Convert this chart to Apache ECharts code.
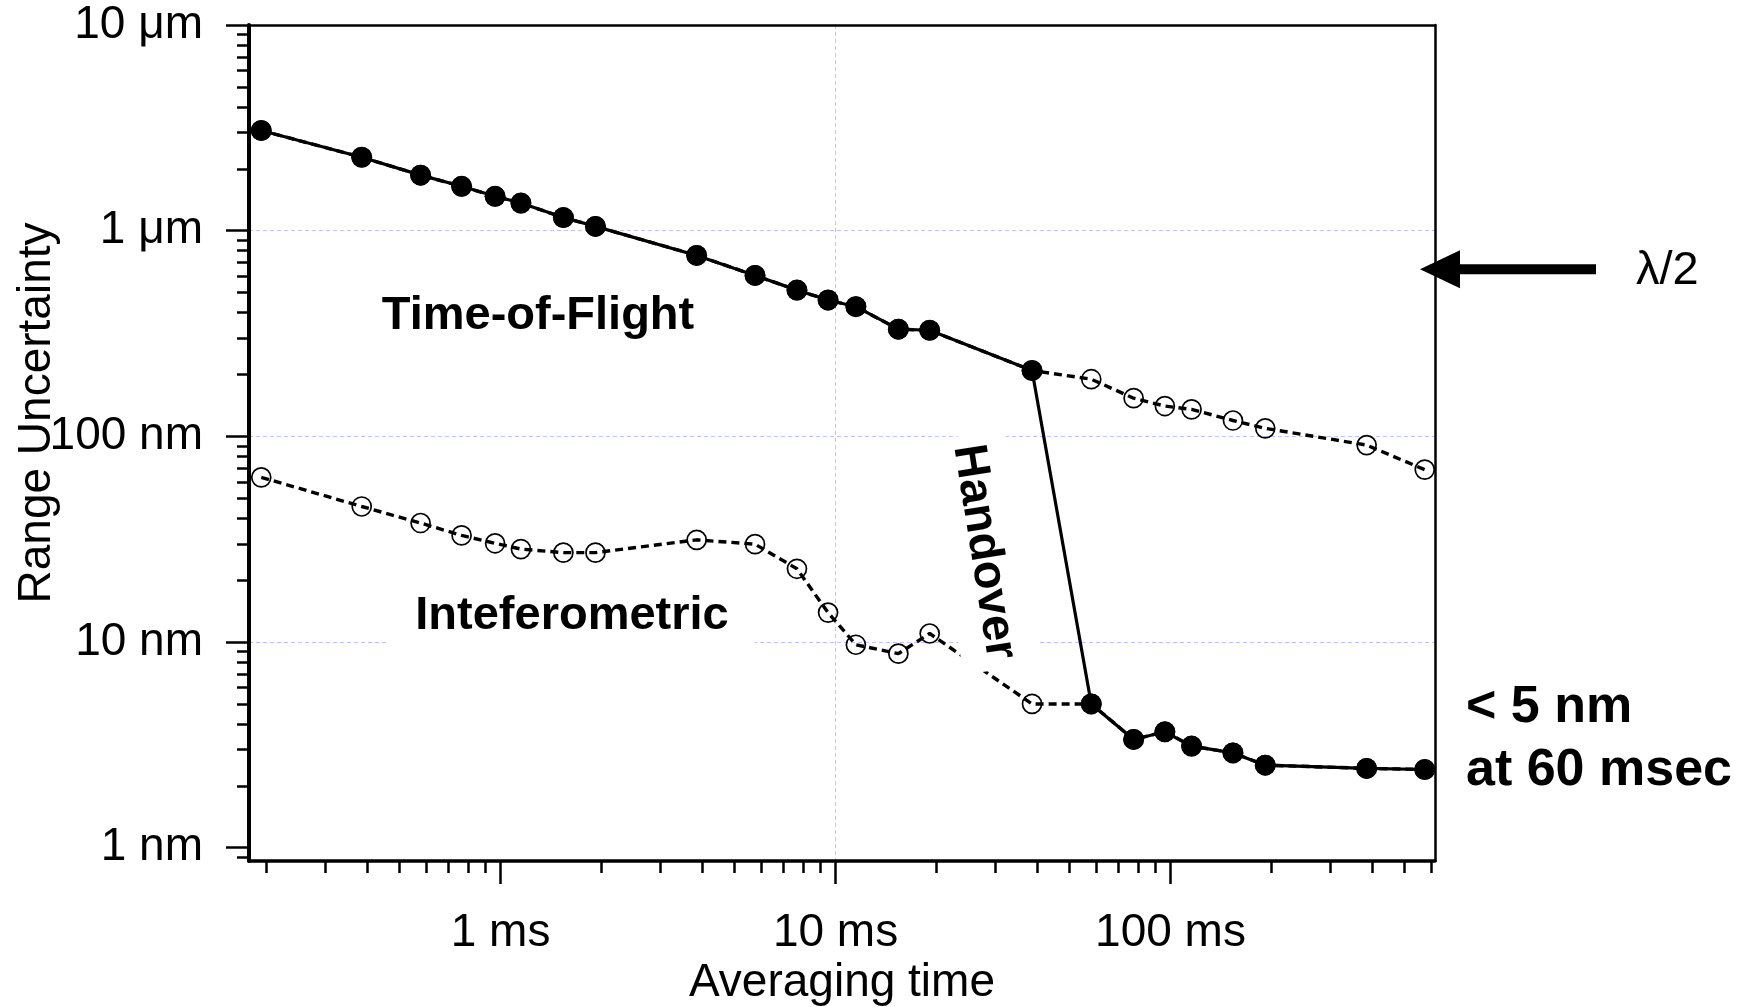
<!DOCTYPE html>
<html>
<head>
<meta charset="utf-8">
<title>Range uncertainty vs averaging time</title>
<script src="https://cdn.jsdelivr.net/npm/echarts@6/dist/echarts.min.js"></script>
<style>
  html, body { margin: 0; padding: 0; background: #fff; }
  #chart { width: 1748px; height: 1007px; }
</style>
</head>
<body>
<div id="chart"></div>
<script>
// averaging time, ms
var times = [0.193, 0.385, 0.577, 0.765, 0.963, 1.15, 1.54, 1.92, 3.85, 5.75, 7.67, 9.5,
  11.5, 15.4, 19.1, 38.6, 58, 77.6, 96.2, 115.6, 153.6, 191.8, 385, 574];
// range uncertainty, nm
var timeOfFlight = [3069, 2275, 1862, 1643, 1469, 1362, 1158, 1049, 758, 606, 514, 460,
  427, 332, 328, 209, 189.6, 153.3, 140.4, 135.3, 119.4, 109.4, 90.7, 68.9];
var interferometric = [63.2, 45.6, 37.9, 33.0, 30.2, 28.3, 27.2, 27.2, 31.4, 29.9, 22.7, 13.9,
  9.7, 8.78, 11.0, 5.0, 5.0, 3.36, 3.66, 3.12, 2.89, 2.52, 2.43, 2.40];
// first point where the interferometric value takes over
var handoverIndex = 16;
var lambdaHalf = 650; // nm

var xRange = [0.1774, 616];
var yRange = [0.8616, 10000];
var xMajorTicks = [1, 10, 100];
var yMajorTicks = [1, 10, 100, 1000, 10000];

function minorTicks(range) {
  var out = [];
  for (var d = 0.1; d <= 1000; d *= 10) {
    for (var k = 2; k <= 9; k++) {
      var v = +(k * d).toPrecision(3);
      if (v > range[0] && v < range[1]) out.push(v);
    }
  }
  return out;
}

var FONT = '"Liberation Sans", Arial, sans-serif';
var black = '#000';
var gridBlue = '#b4c8ff';

var pairs = function (ys) { return times.map(function (t, i) { return [t, ys[i]]; }); };
var combined = times.map(function (t, i) {
  return [t, i < handoverIndex ? timeOfFlight[i] : interferometric[i]];
});

function frameAxis(pos, range, width) {
  return {
    type: 'log', position: pos, min: range[0], max: range[1],
    axisLine: { show: true, onZero: false, lineStyle: { color: black, width: width } },
    axisTick: { show: false }, axisLabel: { show: false }, splitLine: { show: false }
  };
}
function minorAxis(pos, range) {
  return {
    type: 'log', position: pos, min: range[0], max: range[1],
    axisLine: { show: false, onZero: false },
    axisTick: { show: true, customValues: minorTicks(range), length: 12, lineStyle: { color: black, width: 2.5 } },
    axisLabel: { show: false }, splitLine: { show: false }
  };
}

var openSeries = function (ys) {
  return {
    type: 'line', data: pairs(ys), xAxisIndex: 0, yAxisIndex: 0, z: 2,
    symbol: 'circle', symbolSize: 19, silent: true,
    lineStyle: { color: black, width: 3.4, type: [8, 5] },
    itemStyle: { color: 'rgba(0,0,0,0)', borderColor: black, borderWidth: 1.7 }
  };
};

function textBox(text, x, y, rot, pad) {
  return {
    type: 'text', x: x, y: y, rotation: rot || 0, z: 10, silent: true,
    style: {
      text: text, font: 'bold 47px ' + FONT, fill: black, align: 'center', verticalAlign: 'middle',
      backgroundColor: '#fff', padding: pad
    }
  };
}

var chart = echarts.init(document.getElementById('chart'));
var option = {
  animation: false,
  backgroundColor: '#fff',
  grid: { left: 249, right: 313, top: 25, bottom: 146, outerBoundsMode: 'none' },
  xAxis: [{
    type: 'log', position: 'bottom', min: xRange[0], max: xRange[1],
    name: 'Averaging time', nameLocation: 'middle', nameGap: 99, nameMoveOverlap: false,
    nameTextStyle: { color: black, fontSize: 46, fontFamily: FONT },
    axisLine: { show: true, onZero: false, lineStyle: { color: black, width: 3.5 } },
    axisTick: { show: true, customValues: xMajorTicks, length: 23, lineStyle: { color: black, width: 2.5 } },
    axisLabel: {
      customValues: xMajorTicks, margin: 49, color: black, fontSize: 46, fontFamily: FONT,
      formatter: function (v) { return v + ' ms'; }
    },
    splitLine: { show: true, showMinLine: false, showMaxLine: false, lineStyle: { color: gridBlue, width: 1, type: [4, 3] } }
  }, minorAxis('bottom', xRange), frameAxis('top', xRange, 2.5)],
  yAxis: [{
    type: 'log', position: 'left', min: yRange[0], max: yRange[1],
    name: 'Range Uncertainty', nameLocation: 'middle', nameGap: 189, nameMoveOverlap: false,
    nameTextStyle: { color: black, fontSize: 46, fontFamily: FONT, padding: [0, 0, 0, 60] },
    axisLine: { show: true, onZero: false, lineStyle: { color: black, width: 4 } },
    axisTick: { show: true, customValues: yMajorTicks, length: 23, lineStyle: { color: black, width: 2.5 } },
    axisLabel: {
      customValues: yMajorTicks, margin: 46, color: black, fontSize: 46, fontFamily: FONT,
      formatter: function (v) { return v >= 1000 ? (v / 1000) + ' μm' : v + ' nm'; }
    },
    splitLine: { show: true, showMinLine: false, showMaxLine: false, lineStyle: { color: gridBlue, width: 1, type: [4, 3] } }
  }, minorAxis('left', yRange), frameAxis('right', yRange, 2.5)],
  series: [
    openSeries(interferometric),
    openSeries(timeOfFlight),
    {
      type: 'line', data: combined, xAxisIndex: 0, yAxisIndex: 0, z: 3,
      symbol: 'circle', symbolSize: 21, silent: true,
      lineStyle: { color: black, width: 3.2 },
      itemStyle: { color: black }
    }
  ]
};
chart.setOption(option);

// annotations; the arrow points at lambda/2 on the y scale
var ay = chart.convertToPixel({ yAxisIndex: 0 }, lambdaHalf);
chart.setOption({
  graphic: { elements: [
    textBox('Time-of-Flight', 538, 316, 0, [16, 20]),
    textBox('Inteferometric', 572, 616, 0, [16, 26]),
    textBox('Handover', 984, 552, -81 * Math.PI / 180, [16, 10]),
    {
      type: 'polygon', z: 10, silent: true,
      shape: { points: [[1420, ay], [1460, ay - 19], [1460, ay - 5], [1596, ay - 5], [1596, ay + 5], [1460, ay + 5], [1460, ay + 19]] },
      style: { fill: black }
    },
    { type: 'text', x: 1636, y: ay + 2, z: 10, silent: true,
      style: { text: 'λ/2', font: '47px ' + FONT, fill: black, align: 'left', verticalAlign: 'middle' } },
    { type: 'text', x: 1466, y: 708, z: 10, silent: true,
      style: { text: '< 5 nm', font: 'bold 52px ' + FONT, fill: black, align: 'left', verticalAlign: 'middle' } },
    { type: 'text', x: 1466, y: 771, z: 10, silent: true,
      style: { text: 'at 60 msec', font: 'bold 52px ' + FONT, fill: black, align: 'left', verticalAlign: 'middle' } }
  ] }
});
</script>
</body>
</html>
